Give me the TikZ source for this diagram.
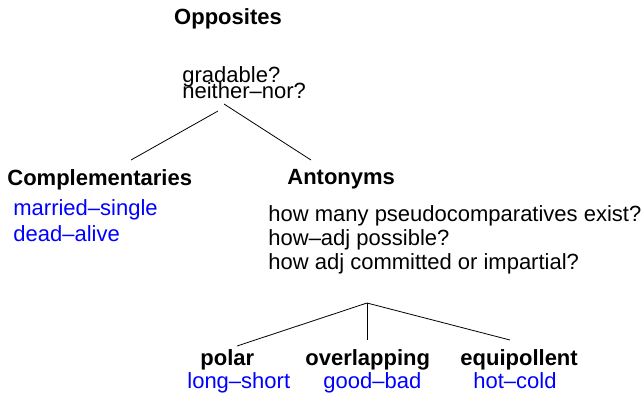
\documentclass[tikz,border=0pt]{standalone}
\usepackage{fontspec}
\setmainfont{Liberation Sans}
\usetikzlibrary{positioning}

\begin{document}
\begin{tikzpicture}[x=1pt,y=-1pt, line width=0.8pt,
    txt/.style={anchor=base west,inner sep=0pt,font=\fontsize{22}{26}\selectfont},
    head/.style={txt,font=\fontsize{22}{26}\selectfont\bfseries},
    ex/.style={txt,text=blue}]
  \useasboundingbox (0,0) rectangle (643,392);
  % top
  \node[head,anchor=base] (opp) at (228,24) {Opposites};
  \node[txt] (q1) at (182,82) {gradable?};
  \node[txt] (q2) at (182,98) {neither--nor?};

  % first level
  \node[head] (compl) at (7,185) {Complementaries};
  \node[ex] (c1) at (13,215) {married--single};
  \node[ex] (c2) at (13,241) {dead--alive};

  \node[head] (ant) at (287,184) {Antonyms};
  \node[txt] (a1) at (268,221) {how many pseudocomparatives exist?};
  \node[txt] (a2) at (268,245) {how--adj possible?};
  \node[txt] (a3) at (268,269) {how adj committed or impartial?};

  % second level
  \node[head] (pol) at (200,365) {polar};
  \node[head] (ovl) at (305,365) {overlapping};
  \node[head] (eqp) at (460,365) {equipollent};
  \node[ex] (p1) at (187,388) {long--short};
  \node[ex] (o1) at (323,388) {good--bad};
  \node[ex] (e1) at (473,388) {hot--cold};

  % branches
  \coordinate (qL) at (218,111);
  \coordinate (qR) at (224,104);
  \coordinate (cT) at (131,160);
  \coordinate (aT) at (311,160);
  \draw (qL) -- (cT);
  \draw (qR) -- (aT);

  \coordinate (top) at (367,303);
  \coordinate (pT) at (237,346);
  \coordinate (oT) at (367,340);
  \coordinate (eT) at (510,340);
  \draw (pT) -- (top) -- (eT);
  \draw (top) -- (oT);
\end{tikzpicture}
\end{document}
